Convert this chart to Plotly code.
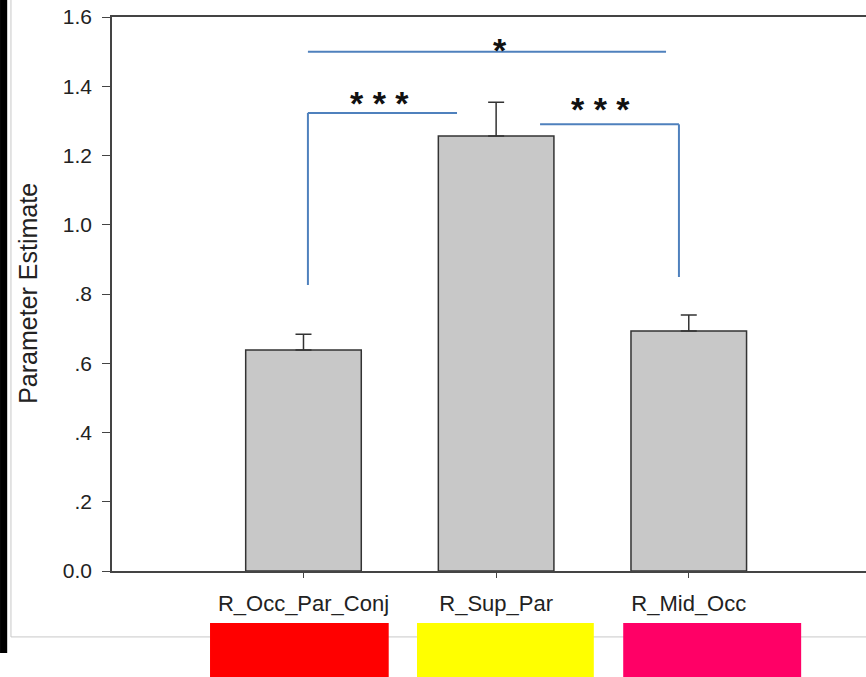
import plotly.graph_objects as go

categories = ["R_Occ_Par_Conj", "R_Sup_Par", "R_Mid_Occ"]
means = [0.638, 1.256, 0.693]
errors = [0.046, 0.098, 0.046]
ytick_vals = [0.0, 0.2, 0.4, 0.6, 0.8, 1.0, 1.2, 1.4, 1.6]
ytick_text = ["0.0", ".2", ".4", ".6", ".8", "1.0", "1.2", "1.4", "1.6"]
region_colors = ["#ff0000", "#ffff00", "#ff0066"]

xpos = list(range(len(categories)))

fig = go.Figure()
fig.add_trace(go.Bar(
    x=xpos, y=means, width=0.6,
    marker=dict(color="#c8c8c8", line=dict(color="#333333", width=1.5)),
    error_y=dict(type="data", array=errors, symmetric=False, arrayminus=[0, 0, 0],
                 color="#333333", thickness=1.5, width=8),
    showlegend=False, hoverinfo="skip",
))

blue = "#4f81bd"
shapes = []
# significance brackets (data coordinates)
shapes.append(dict(type="line", xref="x", yref="y", x0=0.023, x1=1.882, y0=1.50, y1=1.50,
                   line=dict(color=blue, width=2)))
shapes.append(dict(type="line", xref="x", yref="y", x0=0.023, x1=0.023, y0=0.826, y1=1.323,
                   line=dict(color=blue, width=2)))
shapes.append(dict(type="line", xref="x", yref="y", x0=0.023, x1=0.797, y0=1.323, y1=1.323,
                   line=dict(color=blue, width=2)))
shapes.append(dict(type="line", xref="x", yref="y", x0=1.228, x1=1.949, y0=1.290, y1=1.290,
                   line=dict(color=blue, width=2)))
shapes.append(dict(type="line", xref="x", yref="y", x0=1.949, x1=1.949, y0=1.290, y1=0.849,
                   line=dict(color=blue, width=2)))

# outer frame pieces
shapes.append(dict(type="rect", xref="paper", yref="paper", x0=-0.1485, x1=-0.139, y0=-0.148, y1=1.05,
                   fillcolor="#000000", line=dict(width=0)))
shapes.append(dict(type="line", xref="paper", yref="paper", x0=-0.134, x1=-0.134, y0=-0.119, y1=1.05,
                   line=dict(color="#c8c8c8", width=1)))
shapes.append(dict(type="line", xref="paper", yref="paper", x0=-0.134, x1=1.01, y0=-0.119, y1=-0.119,
                   line=dict(color="#c8c8c8", width=1)))
# colour swatches under categories
swatch_x = [(0.130, 0.367), (0.4045, 0.639), (0.678, 0.914)]
for (a, b), c in zip(swatch_x, region_colors):
    shapes.append(dict(type="rect", xref="paper", yref="paper", x0=a, x1=b, y0=-0.0939, y1=-0.21,
                       fillcolor=c, line=dict(width=0)))

star_font = dict(family="Liberation Sans, Arial", size=34, color="#111111", weight="bold")
annotations = [
    dict(x=1.02, y=1.505, xref="x", yref="y", text="*", showarrow=False, font=star_font),
    dict(x=0.397, y=1.351, xref="x", yref="y", text="* * *", showarrow=False, font=star_font),
    dict(x=1.54, y=1.334, xref="x", yref="y", text="* * *", showarrow=False, font=star_font),
    dict(x=-0.1115, y=0.502, xref="paper", yref="paper", text="Parameter Estimate", textangle=-90,
         xanchor="center", yanchor="middle",
         showarrow=False, font=dict(family="Liberation Sans, Arial", size=25, color="#222222")),
]

fig.update_layout(
    width=866, height=677,
    margin=dict(l=112, r=0, t=17, b=106),
    paper_bgcolor="white", plot_bgcolor="white",
    font=dict(family="Liberation Sans, Arial", color="#222222"),
    shapes=shapes, annotations=annotations,
    xaxis=dict(range=[-0.994, 2.92], tickvals=xpos, ticktext=categories,
               showline=True, linecolor="#444444", linewidth=1.5, mirror=True,
               ticks="outside", ticklen=5, tickcolor="#444444", ticklabelstandoff=7,
               showgrid=False, zeroline=False, tickfont=dict(size=22)),
    yaxis=dict(range=[0, 1.6], tickvals=ytick_vals, ticktext=ytick_text,
               showline=True, linecolor="#444444", linewidth=1.5,
               ticks="outside", ticklen=8, tickcolor="#444444", ticklabelstandoff=6,
               showgrid=False, zeroline=False, tickfont=dict(size=21)),
)

fig.write_html("out.html", config={"displayModeBar": False},
               post_script="document.body.style.margin='0';")
